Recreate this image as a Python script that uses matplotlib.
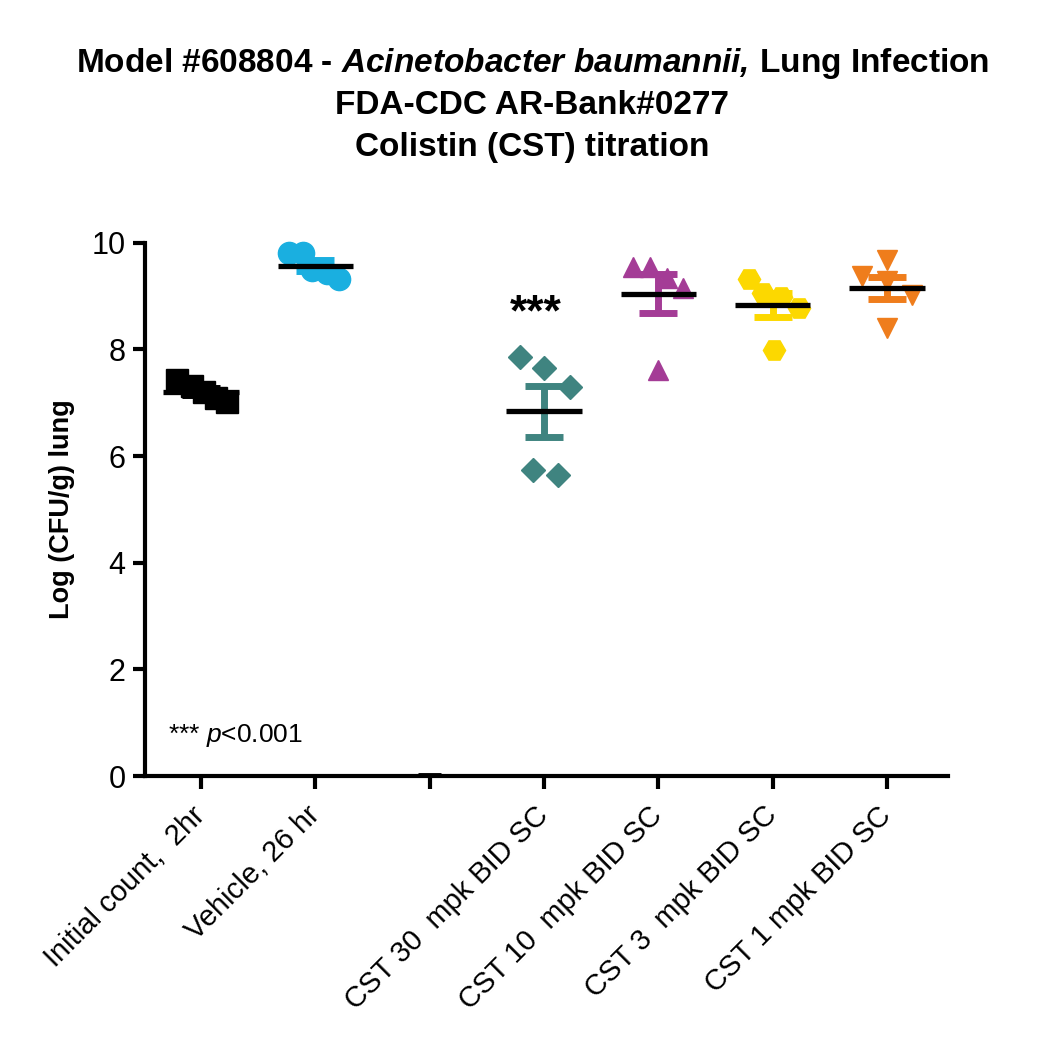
import numpy as np
import matplotlib
matplotlib.use("Agg")
import matplotlib.pyplot as plt

plt.rcParams["font.family"] = ["Liberation Sans", "DejaVu Sans"]
plt.rcParams["mathtext.fontset"] = "custom"
plt.rcParams["mathtext.rm"] = "Liberation Sans"
plt.rcParams["mathtext.it"] = "Liberation Sans:italic"
plt.rcParams["mathtext.bf"] = "Liberation Sans:bold"
plt.rcParams["mathtext.bfit"] = "Liberation Sans:italic:bold"

# --- data (log CFU/g lung) ---
groups = ["Initial count,  2hr", "Vehicle, 26 hr", "",
          "CST 30  mpk BID SC", "CST 10  mpk BID SC",
          "CST 3  mpk BID SC", "CST 1 mpk BID SC"]

initial_2hr = [7.42, 7.32, 7.19, 7.09, 7.02]
vehicle_26hr = [9.81, 9.80, 9.48, 9.42, 9.32]
empty_group = []
cst_30 = [7.85, 7.64, 7.30, 5.74, 5.65]
cst_10 = [9.55, 9.55, 9.34, 9.15, 7.62]
cst_3 = [9.32, 9.06, 8.97, 8.78, 7.99]
cst_1 = [9.68, 9.37, 9.27, 9.02, 8.40]

series = [initial_2hr, vehicle_26hr, empty_group, cst_30, cst_10, cst_3, cst_1]

# horizontal spread of the points inside a column (GraphPad-style scatter)
spread = [[-0.21, -0.08, 0.03, 0.13, 0.23],
          [-0.23, -0.11, -0.03, 0.10, 0.21],
          [],
          [-0.21, 0.0, 0.23, -0.10, 0.12],
          [-0.22, -0.07, 0.08, 0.22, 0.0],
          [-0.21, -0.08, 0.07, 0.23, 0.01],
          [0.0, -0.22, 0.0, 0.22, 0.0]]

colors = ["#000000", "#1AAFE0", None, "#3F8480", "#A43C96", "#FCD800", "#EF7D1C"]
markers = ["s", "o", None, "D", "^", "H", "v"]
msizes = [16, 16, None, 12.5, 15, 16, 15]

fig = plt.figure(figsize=(10.5, 10.59), dpi=100)
ax = fig.add_axes([0.138, 0.267, 0.765, 0.504])

for i, vals in enumerate(series):
    if not vals:
        # empty column: GraphPad leaves a stub line at zero
        ax.plot([i - 0.1, i + 0.1], [0.03, 0.03], color="black", lw=3.5,
                solid_capstyle="butt", clip_on=False, zorder=5)
        continue
    v = np.array(vals)
    xs = i + np.array(spread[i])
    ax.plot(xs, v, linestyle="none", marker=markers[i], ms=msizes[i],
            color=colors[i], mec=colors[i], zorder=3, clip_on=False)
    m = v.mean()
    sem = v.std(ddof=1) / np.sqrt(len(v))
    ax.errorbar(i, m, yerr=sem, color=colors[i], elinewidth=5,
                capsize=13.5, capthick=5, fmt="none", zorder=4)
    ax.plot([i - 0.33, i + 0.33], [m, m], color="black", lw=3.8,
            solid_capstyle="butt", zorder=5)

ax.set_xlim(-0.49, 6.535)
ax.set_ylim(0, 10)
ax.set_yticks([0, 2, 4, 6, 8, 10])
ax.set_xticks(range(len(groups)))
ax.set_xticklabels(groups, rotation=45, ha="right", va="center",
                   rotation_mode="anchor", fontsize=21)
ax.tick_params(axis="y", labelsize=22, length=9, width=3, pad=5)
ax.tick_params(axis="x", length=9, width=3, pad=16)

for s in ["top", "right"]:
    ax.spines[s].set_visible(False)
for s in ["left", "bottom"]:
    ax.spines[s].set_linewidth(3)

ax.set_ylabel("Log (CFU/g) lung", fontsize=19.5, fontweight="bold", labelpad=12)

ax.text(3 - 0.07, 8.45, "***", fontsize=32, fontweight="bold",
        ha="center", va="baseline")
ax.text(-0.29, 0.64, r"*** $p$<0.001", fontsize=19, ha="left", va="baseline")

title_lines = [r"Model #608804 - $\mathbfit{Acinetobacter\ baumannii,}\,$Lung Infection",
               "FDA-CDC AR-Bank#0277",
               "Colistin (CST) titration"]
for k, line in enumerate(title_lines):
    fig.text(0.507, 1 - (72 + 42 * k) / 1059, line, fontsize=24,
             fontweight="bold", ha="center", va="baseline")

fig.savefig("out.png", dpi=100)
